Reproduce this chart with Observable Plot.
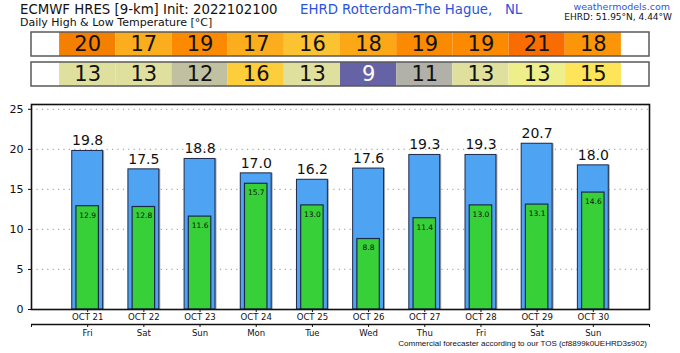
<!DOCTYPE html>
<html>
<head>
<meta charset="utf-8">
<script src="https://cdn.jsdelivr.net/npm/d3@7"></script>
<script src="https://cdn.jsdelivr.net/npm/@observablehq/plot@0.6"></script>
<style>
  body { margin: 0; background: #fff; }
  #wrap { position: relative; width: 680px; height: 353px; overflow: hidden; font-family: "DejaVu Sans", sans-serif; }
  .t { position: absolute; white-space: pre; }
  #boxes { position: absolute; left: 0; top: 28px; }
  #main { position: absolute; left: 0; top: 90px; }
</style>
</head>
<body>
<div id="wrap">
  <div class="t" style="left:20px;top:2px;font-size:13.3px;line-height:15px;color:#111;">ECMWF HRES [9-km] Init: 2022102100</div>
  <div class="t" style="left:20px;top:17px;font-size:11px;line-height:12px;color:#111;">Daily High &amp; Low Temperature [°C]</div>
  <div class="t" style="left:300px;top:2px;font-size:13.3px;line-height:15px;color:#2a52e0;">EHRD Rotterdam-The Hague,   NL</div>
  <div class="t" style="right:10px;top:1px;font-size:9.5px;line-height:11px;color:#3556d6;">weathermodels.com</div>
  <div class="t" style="right:8px;top:12px;font-size:9px;line-height:11px;color:#111;">EHRD: 51.95°N, 4.44°W</div>
  <div id="boxes"></div>
  <div id="main"></div>
  <div class="t" style="right:33px;top:339px;font-family:'Liberation Sans',Arial,sans-serif;font-size:8px;line-height:10px;color:#111;">Commercial forecaster according to our TOS (cf8899k0UEHRD3s902)</div>
</div>
<script>
// ---- data ----
const dates = ["OCT 21","OCT 22","OCT 23","OCT 24","OCT 25","OCT 26","OCT 27","OCT 28","OCT 29","OCT 30"];
const days  = ["Fri","Sat","Sun","Mon","Tue","Wed","Thu","Fri","Sat","Sun"];
const highs = [19.8, 17.5, 18.8, 17.0, 16.2, 17.6, 19.3, 19.3, 20.7, 18.0];
const lows  = [12.9, 12.8, 11.6, 15.7, 13.0, 8.8, 11.4, 13.0, 13.1, 14.6];
const boxHigh = [20, 17, 19, 17, 16, 18, 19, 19, 21, 18];
const boxLow  = [13, 13, 12, 16, 13, 9, 11, 13, 13, 15];
const yTicks = [0, 5, 10, 15, 20, 25];

const data = dates.map((d, i) => ({pos: i + 1, date: d, day: days[i], high: highs[i], low: lows[i]}));
const cells = [
  ...data.map((d, i) => ({pos: d.pos, row: "high", value: d.high, label: boxHigh[i]})),
  ...data.map((d, i) => ({pos: d.pos, row: "low", value: d.low, label: boxLow[i]}))
];

const tempColor = {
  type: "threshold",
  domain: [9.5, 11.5, 12, 13.05, 14, 15, 16, 17, 17.55, 17.9, 18.5, 19.5, 20.5],
  range: ["#6662a6", "#b1b1a9", "#c1c1a2", "#e0e09e", "#eeee8a", "#fde458", "#fdcd3c", "#fbc232",
          "#fbad1e", "#fca716", "#fc9608", "#fc8a00", "#f58000", "#f86c00"]
};

// ---- colored value boxes ----
const boxes = Plot.plot({
  width: 680, height: 62,
  marginLeft: 31, marginRight: 31, marginTop: 3, marginBottom: 3,
  x: {domain: [0, 11], axis: null},
  y: {type: "band", domain: ["high", "low"], axis: null, paddingInner: 0.19, paddingOuter: 0},
  color: tempColor,
  marks: [
    Plot.barX(["high", "low"], {y: d => d, x1: 0, x2: 11, fill: "white"}),
    Plot.barX(cells, {y: "row", x1: d => d.pos - 0.5, x2: d => d.pos + 0.5, fill: "value"}),
    Plot.barX(["high", "low"], {y: d => d, x1: 0, x2: 11, fill: "none", stroke: "#5a5a5a", strokeWidth: 1.5}),
    Plot.text(cells, {y: "row", x: "pos", text: "label", fontSize: 21, fontFamily: "DejaVu Sans",
      fill: d => d.value < 9.5 ? "white" : "#111"})
  ]
});
document.getElementById("boxes").appendChild(boxes);

// ---- main bar chart ----
const main = Plot.plot({
  width: 680, height: 263,
  marginLeft: 31, marginRight: 31, marginTop: 14, marginBottom: 44,
  style: {fontFamily: "DejaVu Sans", color: "#111"},
  x: {domain: [0, 11], axis: null, label: null},
  y: {domain: [0, 25.6], axis: null, label: null},
  marks: [
    Plot.ruleY(yTicks.slice(1), {stroke: "#a8a8a8", strokeDasharray: "1.2,4.2", strokeWidth: 1.2}),
    Plot.rect(data, {x1: d => d.pos - 0.275, x2: d => d.pos + 0.275, y1: 0, y2: "high", fill: "#a8a8a8", dx: 1.5}),
    Plot.rect(data, {x1: d => d.pos - 0.275, x2: d => d.pos + 0.275, y1: 0, y2: "high",
      fill: "#4fa3f3", stroke: "#1c2a4a", strokeWidth: 1}),
    Plot.rect(data, {x1: d => d.pos - 0.2, x2: d => d.pos + 0.2, y1: 0, y2: "low",
      fill: "#38d038", stroke: "#1c2a4a", strokeWidth: 1.2}),
    Plot.text(data, {x: "pos", y: "high", text: d => d.high.toFixed(1), dy: -10, fontSize: 14}),
    Plot.text(data, {x: "pos", y: "low", text: d => d.low.toFixed(1), dy: 9, fontSize: 7.5}),
    Plot.frame({stroke: "#111", strokeWidth: 1.6}),
    Plot.axisY(yTicks, {anchor: "left", tickSize: 3, tickPadding: 5, fontSize: 11, stroke: "#111", label: null}),
    Plot.axisX(data.map(d => d.pos), {anchor: "bottom", tickSize: 3, tickFormat: () => "", stroke: "#111", label: null}),
    Plot.ruleY([0], {dy: 15, stroke: "#111", strokeWidth: 1.5}),
    Plot.axisX([0, ...data.map(d => d.pos), 11], {anchor: "bottom", tickSize: 3, tickFormat: () => "", dy: 15, stroke: "#111", label: null}),
    Plot.text(data, {x: "pos", y: 0, text: "date", dy: 7, fontSize: 9.5, fontFamily: "DejaVu Sans Condensed, DejaVu Sans"}),
    Plot.text(data, {x: "pos", y: 0, text: "day", dy: 23, fontSize: 9.5, fontFamily: "DejaVu Sans Condensed, DejaVu Sans"})
  ]
});
document.getElementById("main").appendChild(main);
</script>
</body>
</html>
